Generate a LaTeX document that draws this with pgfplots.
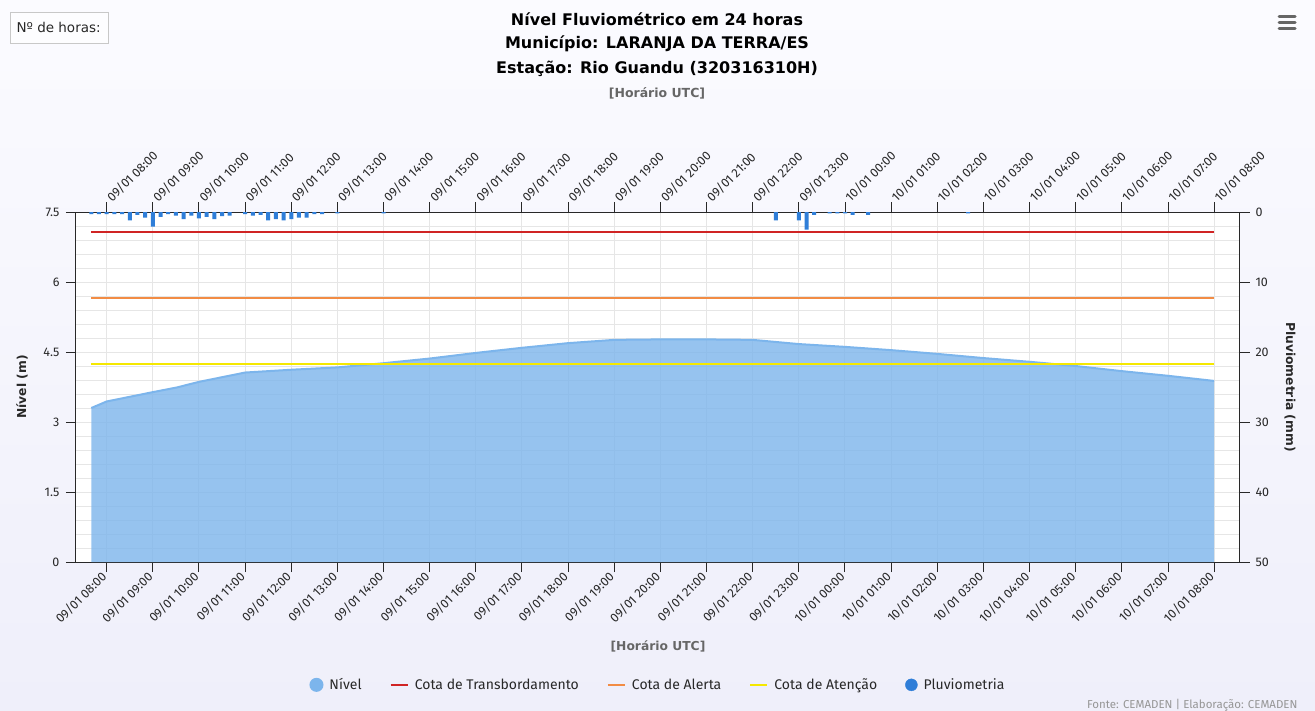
\documentclass[border=0pt]{standalone}
\usepackage{fontspec}
\setmainfont{Fira Sans}
\newfontfamily\dejavu{DejaVu Sans}
\usepackage{pgfplots}
\pgfplotsset{compat=1.18}

\definecolor{bgtop}{RGB}{251,251,255}
\definecolor{bgbot}{RGB}{239,239,250}
\definecolor{gridgray}{RGB}{230,230,230}
\definecolor{axisgray}{RGB}{40,40,40}
\definecolor{txt}{RGB}{40,40,40}
\definecolor{subgray}{RGB}{102,102,102}
\definecolor{nivel}{RGB}{124,181,236}
\definecolor{transb}{RGB}{208,36,36}
\definecolor{alerta}{RGB}{242,140,68}
\definecolor{atencao}{RGB}{245,232,0}
\definecolor{pluvio}{RGB}{47,126,216}

\pgfplotsset{
  common/.style={
    scale only axis, width=1164pt, height=350pt,
    xmin=-0.665, xmax=24.56,
    xtick={0,...,24},
    xticklabels={09/01 08:00,09/01 09:00,09/01 10:00,09/01 11:00,09/01 12:00,
      09/01 13:00,09/01 14:00,09/01 15:00,09/01 16:00,09/01 17:00,09/01 18:00,
      09/01 19:00,09/01 20:00,09/01 21:00,09/01 22:00,09/01 23:00,10/01 00:00,
      10/01 01:00,10/01 02:00,10/01 03:00,10/01 04:00,10/01 05:00,10/01 06:00,
      10/01 07:00,10/01 08:00},
    tick align=outside, major tick length=10pt, minor tick length=0pt,
    tick style={color=axisgray, line width=1pt},
    axis line style={color=axisgray, line width=1pt},
    every tick label/.append style={font=\fontsize{12.5}{14}\selectfont, text=txt},
    /pgf/number format/assume math mode=true,
    label style={font=\dejavu\bfseries\fontsize{12.3}{14}\selectfont, text=txt},
  }
}

\begin{document}
\begin{tikzpicture}
\shade[top color=bgtop, bottom color=bgbot] (0pt,0pt) rectangle (1315pt,-711pt);
\useasboundingbox (0pt,0pt) rectangle (1315pt,-711pt);

% box "N de horas" and menu icon
\draw[color={rgb,255:red,200;green,200;blue,200}, fill=white!60!bgtop] (10pt,-12pt) rectangle (108pt,-43pt);
\node[anchor=west, font=\dejavu\fontsize{13.5}{15}\selectfont, text=txt] at (13pt,-27pt) {Nº de horas:};
\foreach \yy in {-17,-23,-29}
  \draw[line width=3pt, color=subgray, line cap=round] (1279pt,\yy pt) -- (1295pt,\yy pt);

% titles
\node[font=\dejavu\bfseries\fontsize{16}{19}\selectfont] at (657pt,-19pt) {Nível Fluviométrico em 24 horas};
\node[font=\dejavu\bfseries\fontsize{16}{19}\selectfont] at (657pt,-44pt) {Município: LARANJA DA TERRA/ES};
\node[font=\dejavu\bfseries\fontsize{16}{19}\selectfont] at (657pt,-69pt) {Estação: Rio Guandu (320316310H)};
\node[font=\dejavu\bfseries\fontsize{12.5}{14}\selectfont, text=subgray] at (657pt,-93pt) {[Horário UTC]};
\node[anchor=east, font=\fontsize{11.5}{13}\selectfont, text={rgb,255:red,150;green,150;blue,150}] at (1301pt,-705pt) {Fonte: CEMADEN | Elaboração: CEMADEN};

\begin{axis}[
  common,
  at={(76pt,-562pt)}, anchor=south west,
  axis background/.style={fill=white},
  axis x line*=bottom, axis y line*=left,
  ymin=0, ymax=7.5, ytick={0,1.5,3,4.5,6,7.5},
  minor y tick num=4,
  grid=both,
  major grid style={color=gridgray, line width=1pt},
  minor grid style={color=gridgray, line width=0.8pt},
  xticklabel style={rotate=45, anchor=east},
  yticklabel style={xshift=-3pt},
  xlabel={[Horário UTC]},
  xlabel style={at={(axis description cs:0.5,-0.24)}, anchor=center, text=subgray},
  ylabel={Nível (m)},
  ylabel style={at={(axis description cs:-0.0464,0.5)}, anchor=center},
  legend columns=5,
  legend style={at={(0.5,-0.351)}, anchor=center, draw=none, fill=none,
    font=\fontsize{14}{16}\selectfont, text=txt,
    /tikz/every odd column/.append style={column sep=4pt},
    /tikz/every even column/.append style={column sep=26pt}},
]
% area of Nivel
\addplot[fill=nivel, fill opacity=0.8, draw=none, forget plot] coordinates {
  (-0.333,3.30) (0,3.44) (1,3.64) (1.52,3.74) (2,3.86) (3,4.06) (4,4.12)
  (5,4.17) (6,4.26) (7,4.36) (8,4.48) (9,4.59) (10,4.69) (11,4.76)
  (12,4.77) (13,4.77) (14,4.76) (15,4.67) (16,4.61) (17,4.54) (18,4.46)
  (19,4.37) (20,4.29) (21,4.20) (22,4.09) (23,3.99) (24,3.88)
} \closedcycle;
\addplot[color=nivel, line width=2pt,
  legend image code/.code={\fill[nivel] (8pt,0pt) circle (6pt);}] coordinates {
  (-0.333,3.30) (0,3.44) (1,3.64) (1.52,3.74) (2,3.86) (3,4.06) (4,4.12)
  (5,4.17) (6,4.26) (7,4.36) (8,4.48) (9,4.59) (10,4.69) (11,4.76)
  (12,4.77) (13,4.77) (14,4.76) (15,4.67) (16,4.61) (17,4.54) (18,4.46)
  (19,4.37) (20,4.29) (21,4.20) (22,4.09) (23,3.99) (24,3.88)
};
\addlegendentry{Nível}
\addplot[color=transb, line width=2pt] coordinates {(-0.333,7.07) (24,7.07)};
\addlegendentry{Cota de Transbordamento}
\addplot[color=alerta, line width=2pt] coordinates {(-0.333,5.66) (24,5.66)};
\addlegendentry{Cota de Alerta}
\addplot[color=atencao, line width=2pt] coordinates {(-0.333,4.24) (24,4.24)};
\addlegendentry{Cota de Atenção}
\addlegendimage{legend image code/.code={\fill[pluvio] (8pt,0pt) circle (6pt);}}
\addlegendentry{Pluviometria}
\end{axis}

\begin{axis}[
  common,
  at={(76pt,-562pt)}, anchor=south west,
  axis x line*=top, axis y line*=right,
  y dir=reverse,
  ymin=0, ymax=50, ytick={0,10,20,30,40,50},
  xticklabel style={rotate=45, anchor=west},
  yticklabel style={xshift=2pt},
  ylabel={Pluviometria (mm)},
  ylabel style={at={(axis description cs:1.043,0.5)}, anchor=center, rotate=180},
]
\addplot[ybar, bar width=4pt, fill=pluvio, draw=none] coordinates {
  (-0.3333,0.3) (-0.1667,0.3) (0,0.3) (0.1667,0.3) (0.3333,0.3) (0.5,1.2)
  (0.6667,0.4) (0.8333,0.8) (1,2.1) (1.1667,0.7) (1.3333,0.3) (1.5,0.5)
  (1.6667,1.0) (1.8333,0.5) (2,0.9) (2.1667,0.7) (2.3333,1.0) (2.5,0.6)
  (2.6667,0.5) (3,0.3) (3.1667,0.5) (3.3333,0.4) (3.5,1.2) (3.6667,1.0)
  (3.8333,1.2) (4,1.0) (4.1667,0.8) (4.3333,0.8) (4.5,0.3) (4.6667,0.3)
  (5,0.2) (6,0.2)
  (14.5,1.2) (15,1.2) (15.1667,2.5) (15.3333,0.4) (15.6667,0.2) (15.8333,0.2)
  (16,0.2) (16.1667,0.4) (16.5,0.4) (18.6667,0.2)
};
\end{axis}
\end{tikzpicture}
\end{document}
